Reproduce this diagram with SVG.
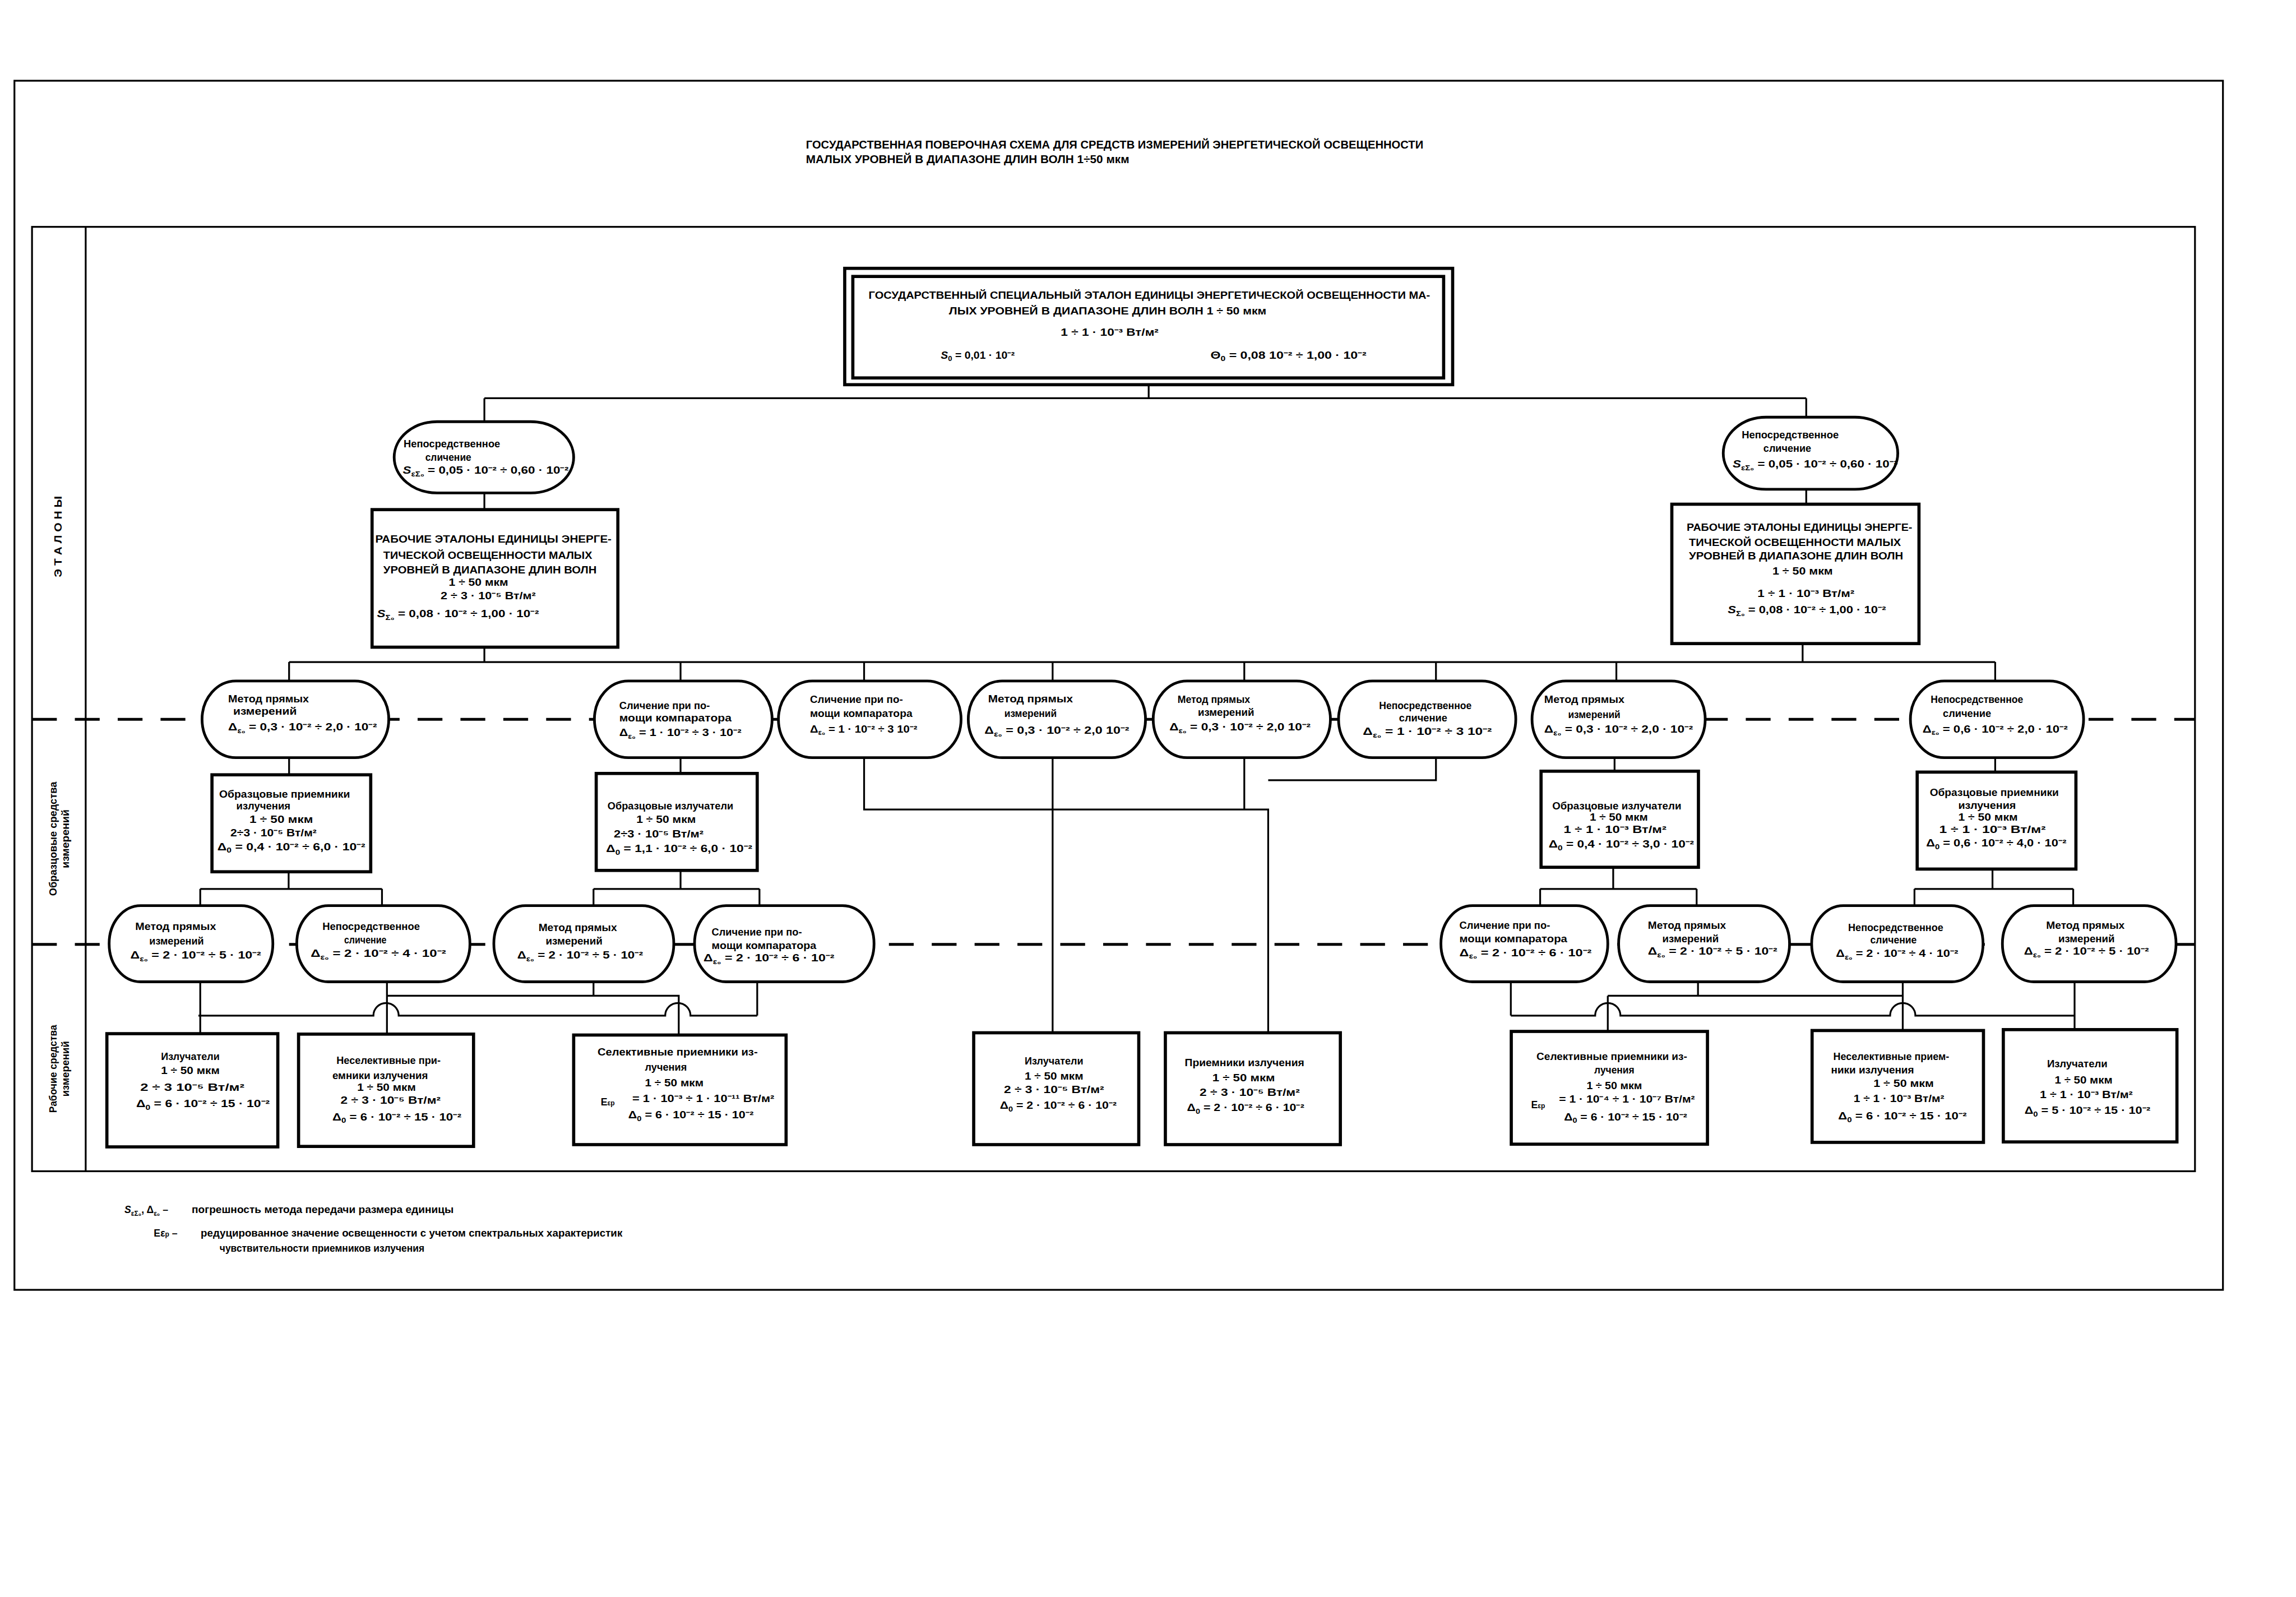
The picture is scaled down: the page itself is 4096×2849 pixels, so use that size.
<svg xmlns="http://www.w3.org/2000/svg" width="4096" height="2849" viewBox="0 0 4096 2849">
<style>
.t{font-family:"Liberation Sans",Arial,sans-serif;font-weight:bold;font-size:22px;fill:#000}
.ti{font-size:25px}
.sb{font-size:15px}
.it{font-style:italic}
.bx{fill:#fff;stroke:#000;stroke-width:7}
.nd{fill:#fff;stroke:#000;stroke-width:6}
.ln{fill:none;stroke:#000;stroke-width:4}
.fr{fill:none;stroke:#000;stroke-width:4}
.da{fill:none;stroke:#000;stroke-width:6;stroke-dasharray:55 40}
</style>
<rect width="4096" height="2849" fill="#fff"/>
<g transform="scale(0.80456)">
<g id="frame">
<rect class="fr" x="32" y="179" width="4897" height="2681"/>
<rect class="fr" x="71" y="503" width="4796" height="2094"/>
<line class="fr" x1="190" y1="503" x2="190" y2="2597"/>
<line class="da" x1="71" y1="1595" x2="4867" y2="1595"/>
<line class="da" x1="71" y1="2094" x2="4867" y2="2094"/>
</g>
<g id="title">
<text class="t ti" x="1787" y="329" textLength="1369" lengthAdjust="spacingAndGlyphs">ГОСУДАРСТВЕННАЯ ПОВЕРОЧНАЯ СХЕМА ДЛЯ СРЕДСТВ ИЗМЕРЕНИЙ ЭНЕРГЕТИЧЕСКОЙ ОСВЕЩЕННОСТИ</text>
<text class="t ti" x="1787" y="362" textLength="717" lengthAdjust="spacingAndGlyphs">МАЛЫХ УРОВНЕЙ В ДИАПАЗОНЕ ДЛИН ВОЛН 1÷50 мкм</text>
</g>
<g id="side-labels">
<text class="t" transform="translate(137,1190) rotate(-90)" text-anchor="middle" font-size="22" textLength="180" lengthAdjust="spacingAndGlyphs">Э Т А Л О Н Ы</text>
<text class="t" transform="translate(125,1860) rotate(-90)" text-anchor="middle" textLength="253" lengthAdjust="spacingAndGlyphs">Образцовые средства</text>
<text class="t" transform="translate(153,1860) rotate(-90)" text-anchor="middle" textLength="130" lengthAdjust="spacingAndGlyphs">измерений</text>
<text class="t" transform="translate(125,2370) rotate(-90)" text-anchor="middle" textLength="195" lengthAdjust="spacingAndGlyphs">Рабочие средства</text>
<text class="t" transform="translate(153,2370) rotate(-90)" text-anchor="middle" textLength="123" lengthAdjust="spacingAndGlyphs">измерений</text>
</g>
<g id="connectors">
<path class="ln" d="M2547,853 V883 M1074,883 H4005 M1074,883 V935 M4005,883 V925 M1074,1093 V1130 M4005,1085 V1118 M1074,1435 V1468 M3997,1427 V1468"/>
<path class="ln" d="M641,1468 H4424 M641,1468 V1510 M1509,1468 V1510 M1916,1468 V1510 M2334,1468 V1510 M2759,1468 V1510 M3184,1468 V1510 M3584,1468 V1510 M4424,1468 V1510"/>
<path class="ln" d="M641,1680 V1718 M1509,1680 V1715 M3580,1680 V1710 M4424,1680 V1712"/>
<path class="ln" d="M640,1933 V1971 M444,1971 H847 M444,1971 V2008 M847,1971 V2008 M1509,1930 V1971 M1316,1971 H1684 M1316,1971 V2008 M1684,1971 V2008"/>
<path class="ln" d="M3577,1923 V1971 M3415,1971 H3762 M3415,1971 V2008 M3762,1971 V2008 M4418,1927 V1971 M4245,1971 H4597 M4245,1971 V2008 M4597,1971 V2008"/>
<path class="ln" d="M444,2177 V2292 M858,2177 V2293 M1316,2177 V2208 M858,2208 H1505 V2295 M1679,2177 V2252"/>
<path class="ln" stroke-width="6" d="M440,2252 H828 A28,28 0 0 1 884,2252 H1475 A28,28 0 0 1 1531,2252 H1679"/>
<path class="ln" d="M3350,2177 V2252 M3765,2177 V2208 M3565,2208 H4219 M3565,2208 V2287 M4219,2177 V2285 M4600,2177 V2283"/>
<path class="ln" stroke-width="6" d="M3350,2252 H3537 A28,28 0 0 1 3593,2252 H4191 A28,28 0 0 1 4247,2252 H4600"/>
<path class="ln" d="M1916,1680 V1795 H2812 V2290 M2334,1680 V2290 M2759,1680 V1795 M3184,1680 V1730 H2812"/>
</g>
<g id="n-top">
<rect class="bx" x="1873" y="595" width="1348" height="258"/>
<rect class="bx" x="1891" y="613" width="1310" height="225"/>
<text class="t" x="1926" y="662" textLength="1245" lengthAdjust="spacingAndGlyphs">ГОСУДАРСТВЕННЫЙ СПЕЦИАЛЬНЫЙ ЭТАЛОН ЕДИНИЦЫ ЭНЕРГЕТИЧЕСКОЙ ОСВЕЩЕННОСТИ МА-</text>
<text class="t" x="2104" y="697" textLength="704" lengthAdjust="spacingAndGlyphs">ЛЫХ УРОВНЕЙ В ДИАПАЗОНЕ ДЛИН ВОЛН 1 ÷ 50 мкм</text>
<text class="t" x="2352" y="745" textLength="217" lengthAdjust="spacingAndGlyphs">1 ÷ 1 · 10⁻³ Вт/м²</text>
<text class="t" x="2086" y="795" textLength="164" lengthAdjust="spacingAndGlyphs"><tspan class="it">S</tspan><tspan class="sb" dy="5">0</tspan><tspan dy="-5"> = 0,01 · 10⁻²</tspan></text>
<text class="t" x="2684" y="795" textLength="346" lengthAdjust="spacingAndGlyphs">Θ<tspan class="sb" dy="5">0</tspan><tspan dy="-5"> = 0,08  10⁻² ÷ 1,00 · 10⁻²</tspan></text>
</g>
<g id="n-l1">
<rect class="nd" x="874" y="935" width="398" height="158" rx="95" ry="79"/>
<text class="t" x="895" y="992" textLength="214" lengthAdjust="spacingAndGlyphs">Непосредственное</text>
<text class="t" x="943" y="1022" textLength="102" lengthAdjust="spacingAndGlyphs">сличение</text>
<text class="t" x="893" y="1050" textLength="368" lengthAdjust="spacingAndGlyphs"><tspan class="it">S</tspan><tspan class="sb" dy="6">εΣ₀</tspan><tspan dy="-6"> = 0,05 · 10⁻² ÷ 0,60 · 10⁻²</tspan></text>
</g>
<g id="n-r1">
<rect class="nd" x="3821" y="925" width="387" height="160" rx="95" ry="80"/>
<text class="t" x="3862" y="972" textLength="215" lengthAdjust="spacingAndGlyphs">Непосредственное</text>
<text class="t" x="3910" y="1002" textLength="106" lengthAdjust="spacingAndGlyphs">сличение</text>
<text class="t" x="3842" y="1037" textLength="366" lengthAdjust="spacingAndGlyphs"><tspan class="it">S</tspan><tspan class="sb" dy="6">εΣ₀</tspan><tspan dy="-6"> = 0,05 · 10⁻² ÷ 0,60 · 10⁻²</tspan></text>
</g>
<g id="n-l2">
<rect class="bx" x="825" y="1130" width="545" height="305"/>
<text class="t" x="832" y="1203" textLength="524" lengthAdjust="spacingAndGlyphs">РАБОЧИЕ ЭТАЛОНЫ ЕДИНИЦЫ ЭНЕРГЕ-</text>
<text class="t" x="850" y="1239" textLength="463" lengthAdjust="spacingAndGlyphs">ТИЧЕСКОЙ ОСВЕЩЕННОСТИ  МАЛЫХ</text>
<text class="t" x="850" y="1272" textLength="473" lengthAdjust="spacingAndGlyphs">УРОВНЕЙ В ДИАПАЗОНЕ ДЛИН ВОЛН</text>
<text class="t" x="995" y="1299" textLength="132" lengthAdjust="spacingAndGlyphs">1 ÷ 50 мкм</text>
<text class="t" x="977" y="1329" textLength="211" lengthAdjust="spacingAndGlyphs">2 ÷ 3 · 10⁻⁵ Вт/м²</text>
<text class="t" x="836" y="1369" textLength="359" lengthAdjust="spacingAndGlyphs"><tspan class="it">S</tspan><tspan class="sb" dy="6">Σ₀</tspan><tspan dy="-6"> = 0,08 · 10⁻² ÷ 1,00 · 10⁻²</tspan></text>
</g>
<g id="n-r2">
<rect class="bx" x="3707" y="1118" width="548" height="309"/>
<text class="t" x="3740" y="1177" textLength="500" lengthAdjust="spacingAndGlyphs">РАБОЧИЕ ЭТАЛОНЫ ЕДИНИЦЫ ЭНЕРГЕ-</text>
<text class="t" x="3745" y="1210" textLength="470" lengthAdjust="spacingAndGlyphs">ТИЧЕСКОЙ ОСВЕЩЕННОСТИ МАЛЫХ</text>
<text class="t" x="3745" y="1240" textLength="475" lengthAdjust="spacingAndGlyphs">УРОВНЕЙ В ДИАПАЗОНЕ ДЛИН ВОЛН</text>
<text class="t" x="3930" y="1274" textLength="134" lengthAdjust="spacingAndGlyphs">1 ÷ 50 мкм</text>
<text class="t" x="3897" y="1324" textLength="215" lengthAdjust="spacingAndGlyphs">1 ÷ 1 · 10⁻³ Вт/м²</text>
<text class="t" x="3831" y="1360" textLength="351" lengthAdjust="spacingAndGlyphs"><tspan class="it">S</tspan><tspan class="sb" dy="6">Σ₀</tspan><tspan dy="-6"> = 0,08 · 10⁻² ÷ 1,00 · 10⁻²</tspan></text>
</g>
<g id="n-e1">
<rect class="nd" x="448" y="1510" width="414" height="170" rx="75" ry="85"/>
<text class="t" x="506" y="1557" textLength="179" lengthAdjust="spacingAndGlyphs">Метод прямых</text>
<text class="t" x="517" y="1585" textLength="141" lengthAdjust="spacingAndGlyphs">измерений</text>
<text class="t" x="506" y="1620" textLength="330" lengthAdjust="spacingAndGlyphs">Δ<tspan class="sb" dy="6">ε₀</tspan><tspan dy="-6"> = 0,3 · 10⁻² ÷ 2,0 · 10⁻²</tspan></text>
</g>
<g id="n-e2">
<rect class="nd" x="1318" y="1510" width="394" height="170" rx="75" ry="85"/>
<text class="t" x="1373" y="1572" textLength="201" lengthAdjust="spacingAndGlyphs">Сличение при по-</text>
<text class="t" x="1373" y="1600" textLength="249" lengthAdjust="spacingAndGlyphs">мощи компаратора</text>
<text class="t" x="1373" y="1632" textLength="271" lengthAdjust="spacingAndGlyphs">Δ<tspan class="sb" dy="6">ε₀</tspan><tspan dy="-6"> = 1 · 10⁻² ÷ 3 · 10⁻²</tspan></text>
</g>
<g id="n-e3">
<rect class="nd" x="1726" y="1510" width="405" height="170" rx="75" ry="85"/>
<text class="t" x="1796" y="1559" textLength="206" lengthAdjust="spacingAndGlyphs">Сличение при по-</text>
<text class="t" x="1796" y="1590" textLength="227" lengthAdjust="spacingAndGlyphs">мощи компаратора</text>
<text class="t" x="1796" y="1624" textLength="238" lengthAdjust="spacingAndGlyphs">Δ<tspan class="sb" dy="6">ε₀</tspan><tspan dy="-6"> = 1 · 10⁻² ÷ 3  10⁻²</tspan></text>
</g>
<g id="n-e4">
<rect class="nd" x="2147" y="1510" width="393" height="170" rx="75" ry="85"/>
<text class="t" x="2191" y="1557" textLength="188" lengthAdjust="spacingAndGlyphs">Метод прямых</text>
<text class="t" x="2227" y="1590" textLength="116" lengthAdjust="spacingAndGlyphs">измерений</text>
<text class="t" x="2183" y="1627" textLength="321" lengthAdjust="spacingAndGlyphs">Δ<tspan class="sb" dy="6">ε₀</tspan><tspan dy="-6"> = 0,3 · 10⁻² ÷ 2,0  10⁻²</tspan></text>
</g>
<g id="n-e5">
<rect class="nd" x="2557" y="1510" width="393" height="170" rx="75" ry="85"/>
<text class="t" x="2611" y="1559" textLength="161" lengthAdjust="spacingAndGlyphs">Метод прямых</text>
<text class="t" x="2656" y="1587" textLength="125" lengthAdjust="spacingAndGlyphs">измерений</text>
<text class="t" x="2593" y="1620" textLength="313" lengthAdjust="spacingAndGlyphs">Δ<tspan class="sb" dy="6">ε₀</tspan><tspan dy="-6"> = 0,3 · 10⁻² ÷ 2,0  10⁻²</tspan></text>
</g>
<g id="n-e6">
<rect class="nd" x="2968" y="1510" width="393" height="170" rx="75" ry="85"/>
<text class="t" x="3058" y="1572" textLength="205" lengthAdjust="spacingAndGlyphs">Непосредственное</text>
<text class="t" x="3102" y="1600" textLength="107" lengthAdjust="spacingAndGlyphs">сличение</text>
<text class="t" x="3022" y="1630" textLength="286" lengthAdjust="spacingAndGlyphs">Δ<tspan class="sb" dy="6">ε₀</tspan><tspan dy="-6"> = 1 · 10⁻² ÷ 3  10⁻²</tspan></text>
</g>
<g id="n-e7">
<rect class="nd" x="3397" y="1510" width="384" height="170" rx="75" ry="85"/>
<text class="t" x="3424" y="1559" textLength="178" lengthAdjust="spacingAndGlyphs">Метод прямых</text>
<text class="t" x="3477" y="1592" textLength="116" lengthAdjust="spacingAndGlyphs">измерений</text>
<text class="t" x="3424" y="1625" textLength="330" lengthAdjust="spacingAndGlyphs">Δ<tspan class="sb" dy="6">ε₀</tspan><tspan dy="-6"> = 0,3 · 10⁻² ÷ 2,0 · 10⁻²</tspan></text>
</g>
<g id="n-e8">
<rect class="nd" x="4236" y="1510" width="384" height="170" rx="75" ry="85"/>
<text class="t" x="4281" y="1559" textLength="205" lengthAdjust="spacingAndGlyphs">Непосредственное</text>
<text class="t" x="4308" y="1590" textLength="107" lengthAdjust="spacingAndGlyphs">сличение</text>
<text class="t" x="4263" y="1624" textLength="322" lengthAdjust="spacingAndGlyphs">Δ<tspan class="sb" dy="6">ε₀</tspan><tspan dy="-6"> = 0,6 · 10⁻² ÷ 2,0 · 10⁻²</tspan></text>
</g>
<g id="n-b1">
<rect class="bx" x="470" y="1718" width="352" height="215"/>
<text class="t" x="486" y="1769" textLength="290" lengthAdjust="spacingAndGlyphs">Образцовые приемники</text>
<text class="t" x="524" y="1795" textLength="120" lengthAdjust="spacingAndGlyphs">излучения</text>
<text class="t" x="553" y="1825" textLength="141" lengthAdjust="spacingAndGlyphs">1 ÷ 50 мкм</text>
<text class="t" x="511" y="1854" textLength="191" lengthAdjust="spacingAndGlyphs">2÷3 · 10⁻⁵ Вт/м²</text>
<text class="t" x="482" y="1885" textLength="328" lengthAdjust="spacingAndGlyphs">Δ<tspan class="sb" dy="6">0</tspan><tspan dy="-6"> = 0,4 · 10⁻² ÷ 6,0 · 10⁻²</tspan></text>
</g>
<g id="n-b2">
<rect class="bx" x="1322" y="1715" width="357" height="215"/>
<text class="t" x="1347" y="1795" textLength="279" lengthAdjust="spacingAndGlyphs">Образцовые излучатели</text>
<text class="t" x="1411" y="1825" textLength="132" lengthAdjust="spacingAndGlyphs">1 ÷ 50 мкм</text>
<text class="t" x="1361" y="1857" textLength="199" lengthAdjust="spacingAndGlyphs">2÷3 · 10⁻⁵ Вт/м²</text>
<text class="t" x="1344" y="1889" textLength="324" lengthAdjust="spacingAndGlyphs">Δ<tspan class="sb" dy="6">0</tspan><tspan dy="-6"> = 1,1 · 10⁻² ÷ 6,0 · 10⁻²</tspan></text>
</g>
<g id="n-b3">
<rect class="bx" x="3417" y="1710" width="349" height="213"/>
<text class="t" x="3442" y="1795" textLength="286" lengthAdjust="spacingAndGlyphs">Образцовые излучатели</text>
<text class="t" x="3525" y="1820" textLength="129" lengthAdjust="spacingAndGlyphs">1 ÷ 50 мкм</text>
<text class="t" x="3467" y="1847" textLength="228" lengthAdjust="spacingAndGlyphs">1 ÷ 1 · 10⁻³ Вт/м²</text>
<text class="t" x="3434" y="1879" textLength="322" lengthAdjust="spacingAndGlyphs">Δ<tspan class="sb" dy="6">0</tspan><tspan dy="-6"> = 0,4 · 10⁻² ÷ 3,0 · 10⁻²</tspan></text>
</g>
<g id="n-b4">
<rect class="bx" x="4251" y="1712" width="352" height="215"/>
<text class="t" x="4279" y="1765" textLength="286" lengthAdjust="spacingAndGlyphs">Образцовые приемники</text>
<text class="t" x="4342" y="1794" textLength="128" lengthAdjust="spacingAndGlyphs">излучения</text>
<text class="t" x="4342" y="1820" textLength="132" lengthAdjust="spacingAndGlyphs">1 ÷ 50 мкм</text>
<text class="t" x="4300" y="1847" textLength="236" lengthAdjust="spacingAndGlyphs">1 ÷ 1 · 10⁻³ Вт/м²</text>
<text class="t" x="4271" y="1877" textLength="311" lengthAdjust="spacingAndGlyphs">Δ<tspan class="sb" dy="6">0</tspan><tspan dy="-6"> = 0,6 · 10⁻² ÷ 4,0 · 10⁻²</tspan></text>
</g>
<g id="n-f1">
<rect class="nd" x="242" y="2008" width="363" height="169" rx="70" ry="84"/>
<text class="t" x="300" y="2062" textLength="179" lengthAdjust="spacingAndGlyphs">Метод прямых</text>
<text class="t" x="331" y="2094" textLength="121" lengthAdjust="spacingAndGlyphs">измерений</text>
<text class="t" x="289" y="2125" textLength="290" lengthAdjust="spacingAndGlyphs">Δ<tspan class="sb" dy="6">ε₀</tspan><tspan dy="-6"> = 2 · 10⁻² ÷ 5 · 10⁻²</tspan></text>
</g>
<g id="n-f2">
<rect class="nd" x="658" y="2008" width="384" height="169" rx="70" ry="84"/>
<text class="t" x="715" y="2062" textLength="216" lengthAdjust="spacingAndGlyphs">Непосредственное</text>
<text class="t" x="763" y="2092" textLength="94" lengthAdjust="spacingAndGlyphs">сличение</text>
<text class="t" x="689" y="2122" textLength="300" lengthAdjust="spacingAndGlyphs">Δ<tspan class="sb" dy="6">ε₀</tspan><tspan dy="-6"> = 2 · 10⁻² ÷ 4 · 10⁻²</tspan></text>
</g>
<g id="n-f3">
<rect class="nd" x="1095" y="2008" width="399" height="169" rx="70" ry="84"/>
<text class="t" x="1194" y="2064" textLength="174" lengthAdjust="spacingAndGlyphs">Метод прямых</text>
<text class="t" x="1210" y="2094" textLength="126" lengthAdjust="spacingAndGlyphs">измерений</text>
<text class="t" x="1147" y="2125" textLength="279" lengthAdjust="spacingAndGlyphs">Δ<tspan class="sb" dy="6">ε₀</tspan><tspan dy="-6"> = 2 · 10⁻² ÷ 5 · 10⁻²</tspan></text>
</g>
<g id="n-f4">
<rect class="nd" x="1540" y="2008" width="398" height="169" rx="70" ry="84"/>
<text class="t" x="1578" y="2075" textLength="200" lengthAdjust="spacingAndGlyphs">Сличение при по-</text>
<text class="t" x="1578" y="2104" textLength="232" lengthAdjust="spacingAndGlyphs">мощи компаратора</text>
<text class="t" x="1560" y="2132" textLength="290" lengthAdjust="spacingAndGlyphs">Δ<tspan class="sb" dy="6">ε₀</tspan><tspan dy="-6"> = 2 · 10⁻² ÷ 6 · 10⁻²</tspan></text>
</g>
<g id="n-f5">
<rect class="nd" x="3195" y="2008" width="370" height="169" rx="70" ry="84"/>
<text class="t" x="3236" y="2059" textLength="201" lengthAdjust="spacingAndGlyphs">Сличение при по-</text>
<text class="t" x="3236" y="2089" textLength="239" lengthAdjust="spacingAndGlyphs">мощи компаратора</text>
<text class="t" x="3236" y="2120" textLength="293" lengthAdjust="spacingAndGlyphs">Δ<tspan class="sb" dy="6">ε₀</tspan><tspan dy="-6"> = 2 · 10⁻² ÷ 6 · 10⁻²</tspan></text>
</g>
<g id="n-f6">
<rect class="nd" x="3589" y="2008" width="379" height="169" rx="70" ry="84"/>
<text class="t" x="3654" y="2060" textLength="173" lengthAdjust="spacingAndGlyphs">Метод прямых</text>
<text class="t" x="3686" y="2089" textLength="125" lengthAdjust="spacingAndGlyphs">измерений</text>
<text class="t" x="3654" y="2117" textLength="287" lengthAdjust="spacingAndGlyphs">Δ<tspan class="sb" dy="6">ε₀</tspan><tspan dy="-6"> = 2 · 10⁻² ÷ 5 · 10⁻²</tspan></text>
</g>
<g id="n-f7">
<rect class="nd" x="4017" y="2008" width="380" height="169" rx="70" ry="84"/>
<text class="t" x="4098" y="2064" textLength="211" lengthAdjust="spacingAndGlyphs">Непосредственное</text>
<text class="t" x="4147" y="2092" textLength="103" lengthAdjust="spacingAndGlyphs">сличение</text>
<text class="t" x="4071" y="2122" textLength="271" lengthAdjust="spacingAndGlyphs">Δ<tspan class="sb" dy="6">ε₀</tspan><tspan dy="-6"> = 2 · 10⁻² ÷ 4 · 10⁻²</tspan></text>
</g>
<g id="n-f8">
<rect class="nd" x="4440" y="2008" width="385" height="169" rx="70" ry="84"/>
<text class="t" x="4537" y="2060" textLength="174" lengthAdjust="spacingAndGlyphs">Метод прямых</text>
<text class="t" x="4564" y="2089" textLength="125" lengthAdjust="spacingAndGlyphs">измерений</text>
<text class="t" x="4488" y="2117" textLength="277" lengthAdjust="spacingAndGlyphs">Δ<tspan class="sb" dy="6">ε₀</tspan><tspan dy="-6"> = 2 · 10⁻² ÷ 5 · 10⁻²</tspan></text>
</g>
<g id="n-g1">
<rect class="bx" x="237" y="2292" width="379" height="251"/>
<text class="t" x="357" y="2350" textLength="130" lengthAdjust="spacingAndGlyphs">Излучатели</text>
<text class="t" x="357" y="2382" textLength="130" lengthAdjust="spacingAndGlyphs">1 ÷ 50 мкм</text>
<text class="t" x="311" y="2419" textLength="231" lengthAdjust="spacingAndGlyphs">2 ÷ 3  10⁻⁵ Вт/м²</text>
<text class="t" x="302" y="2455" textLength="296" lengthAdjust="spacingAndGlyphs">Δ<tspan class="sb" dy="6">0</tspan><tspan dy="-6"> = 6 · 10⁻² ÷ 15 · 10⁻²</tspan></text>
</g>
<g id="n-g2">
<rect class="bx" x="662" y="2293" width="388" height="249"/>
<text class="t" x="746" y="2359" textLength="231" lengthAdjust="spacingAndGlyphs">Неселективные при-</text>
<text class="t" x="737" y="2392" textLength="212" lengthAdjust="spacingAndGlyphs">емники излучения</text>
<text class="t" x="792" y="2419" textLength="130" lengthAdjust="spacingAndGlyphs">1 ÷ 50 мкм</text>
<text class="t" x="755" y="2447" textLength="222" lengthAdjust="spacingAndGlyphs">2 ÷ 3 · 10⁻⁵ Вт/м²</text>
<text class="t" x="737" y="2484" textLength="286" lengthAdjust="spacingAndGlyphs">Δ<tspan class="sb" dy="6">0</tspan><tspan dy="-6"> = 6 · 10⁻² ÷ 15 · 10⁻²</tspan></text>
</g>
<g id="n-g3">
<rect class="bx" x="1272" y="2295" width="471" height="243"/>
<text class="t" x="1325" y="2340" textLength="355" lengthAdjust="spacingAndGlyphs">Селективные приемники из-</text>
<text class="t" x="1430" y="2374" textLength="93" lengthAdjust="spacingAndGlyphs">лучения</text>
<text class="t" x="1430" y="2409" textLength="130" lengthAdjust="spacingAndGlyphs">1 ÷ 50 мкм</text>
<text class="t" x="1332" y="2451">E<tspan class="sb">εр</tspan></text>
<text class="t" x="1402" y="2444" textLength="315" lengthAdjust="spacingAndGlyphs">= 1 · 10⁻³ ÷ 1 · 10⁻¹¹ Вт/м²</text>
<text class="t" x="1393" y="2480" textLength="278" lengthAdjust="spacingAndGlyphs">Δ<tspan class="sb" dy="6">0</tspan><tspan dy="-6"> = 6 · 10⁻² ÷ 15 · 10⁻²</tspan></text>
</g>
<g id="n-g4">
<rect class="bx" x="2159" y="2290" width="366" height="248"/>
<text class="t" x="2272" y="2360" textLength="130" lengthAdjust="spacingAndGlyphs">Излучатели</text>
<text class="t" x="2272" y="2394" textLength="130" lengthAdjust="spacingAndGlyphs">1 ÷ 50 мкм</text>
<text class="t" x="2226" y="2424" textLength="222" lengthAdjust="spacingAndGlyphs">2 ÷ 3 · 10⁻⁵ Вт/м²</text>
<text class="t" x="2217" y="2459" textLength="259" lengthAdjust="spacingAndGlyphs">Δ<tspan class="sb" dy="6">0</tspan><tspan dy="-6"> = 2 · 10⁻² ÷ 6 · 10⁻²</tspan></text>
</g>
<g id="n-g5">
<rect class="bx" x="2584" y="2290" width="388" height="248"/>
<text class="t" x="2627" y="2364" textLength="265" lengthAdjust="spacingAndGlyphs">Приемники излучения</text>
<text class="t" x="2688" y="2397" textLength="139" lengthAdjust="spacingAndGlyphs">1 ÷ 50 мкм</text>
<text class="t" x="2660" y="2430" textLength="222" lengthAdjust="spacingAndGlyphs">2 ÷ 3 · 10⁻⁵ Вт/м²</text>
<text class="t" x="2632" y="2464" textLength="260" lengthAdjust="spacingAndGlyphs">Δ<tspan class="sb" dy="6">0</tspan><tspan dy="-6"> = 2 · 10⁻² ÷ 6 · 10⁻²</tspan></text>
</g>
<g id="n-g6">
<rect class="bx" x="3351" y="2287" width="435" height="250"/>
<text class="t" x="3407" y="2350" textLength="334" lengthAdjust="spacingAndGlyphs">Селективные приемники из-</text>
<text class="t" x="3535" y="2380" textLength="89" lengthAdjust="spacingAndGlyphs">лучения</text>
<text class="t" x="3518" y="2415" textLength="123" lengthAdjust="spacingAndGlyphs">1 ÷ 50 мкм</text>
<text class="t" x="3395" y="2457">E<tspan class="sb">εр</tspan></text>
<text class="t" x="3457" y="2445" textLength="301" lengthAdjust="spacingAndGlyphs">= 1 · 10⁻⁴ ÷ 1 · 10⁻⁷ Вт/м²</text>
<text class="t" x="3468" y="2484" textLength="273" lengthAdjust="spacingAndGlyphs">Δ<tspan class="sb" dy="6">0</tspan><tspan dy="-6"> = 6 · 10⁻² ÷ 15 · 10⁻²</tspan></text>
</g>
<g id="n-g7">
<rect class="bx" x="4018" y="2285" width="380" height="248"/>
<text class="t" x="4065" y="2350" textLength="257" lengthAdjust="spacingAndGlyphs">Неселективные прием-</text>
<text class="t" x="4060" y="2380" textLength="184" lengthAdjust="spacingAndGlyphs">ники излучения</text>
<text class="t" x="4154" y="2410" textLength="134" lengthAdjust="spacingAndGlyphs">1 ÷ 50 мкм</text>
<text class="t" x="4110" y="2444" textLength="201" lengthAdjust="spacingAndGlyphs">1 ÷ 1 · 10⁻³ Вт/м²</text>
<text class="t" x="4076" y="2482" textLength="285" lengthAdjust="spacingAndGlyphs">Δ<tspan class="sb" dy="6">0</tspan><tspan dy="-6"> = 6 · 10⁻² ÷ 15 · 10⁻²</tspan></text>
</g>
<g id="n-g8">
<rect class="bx" x="4442" y="2283" width="385" height="249"/>
<text class="t" x="4539" y="2367" textLength="134" lengthAdjust="spacingAndGlyphs">Излучатели</text>
<text class="t" x="4556" y="2402" textLength="128" lengthAdjust="spacingAndGlyphs">1 ÷ 50 мкм</text>
<text class="t" x="4523" y="2435" textLength="206" lengthAdjust="spacingAndGlyphs">1 ÷ 1 · 10⁻³ Вт/м²</text>
<text class="t" x="4489" y="2470" textLength="279" lengthAdjust="spacingAndGlyphs">Δ<tspan class="sb" dy="6">0</tspan><tspan dy="-6"> = 5 · 10⁻² ÷ 15 · 10⁻²</tspan></text>
</g>
<g id="legend">
<text class="t" x="276" y="2690"><tspan class="it">S</tspan><tspan class="sb" dy="6">εΣ₀</tspan><tspan dy="-6">, Δ</tspan><tspan class="sb" dy="6">ε₀</tspan><tspan dy="-6"> –</tspan></text>
<text class="t" x="425" y="2690" textLength="581" lengthAdjust="spacingAndGlyphs">погрешность метода передачи размера единицы</text>
<text class="t" x="341" y="2742">Eε<tspan class="sb">р</tspan>  –</text>
<text class="t" x="445" y="2742" textLength="935" lengthAdjust="spacingAndGlyphs">редуцированное значение освещенности с учетом спектральных характеристик</text>
<text class="t" x="487" y="2775" textLength="454" lengthAdjust="spacingAndGlyphs">чувствительности приемников излучения</text>
</g>
</g>
</svg>
